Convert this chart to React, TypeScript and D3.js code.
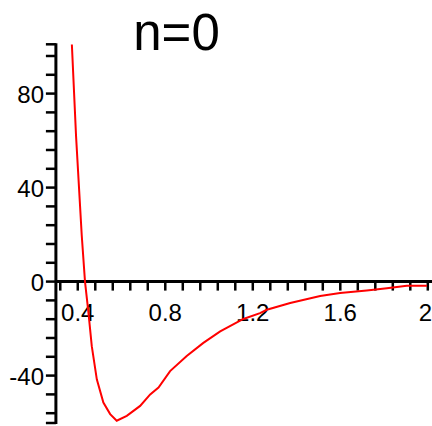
import React from "react";
import * as d3 from "d3";

const title = "n=0";
const rValues = [0.373, 0.392, 0.418, 0.433, 0.449, 0.464, 0.487, 0.517, 0.548, 0.578, 0.624, 0.685, 0.731, 0.769, 0.822, 0.898, 0.974, 1.051, 1.157, 1.233, 1.264, 1.371, 1.508, 1.599, 1.721, 1.813, 1.904, 1.996];
const energyValues = [100.9, 62.1, 19.8, 0, -13.4, -27.5, -41.6, -51.5, -56.4, -59.2, -57.1, -52.9, -48.0, -45.1, -38.1, -31.7, -26.1, -21.2, -15.9, -13.4, -12.0, -9.1, -6.1, -4.9, -3.8, -2.8, -1.8, -1.8];
const xTickValues = d3.range(0.32, 2.0001, 0.08);
const xLabelValues = [0.4, 0.8, 1.2, 1.6, 2];
const yTickValues = d3.range(-56, 97, 8);
const yLabelValues = [-40, 0, 40, 80];
const xDomain = [0.3, 2.0];
const yDomain = [-60.6, 101.4];

const W = 432;
const H = 426;
const FONT = "'Liberation Sans', Arial, sans-serif";

export default function App() {
  const x = d3.scaleLinear().domain(xDomain).range([55.9, 427.8]);
  const y = d3.scaleLinear().domain(yDomain).range([424, 43.3]);
  const line = d3
    .line<number>()
    .x((_, i) => x(rValues[i]))
    .y((d) => y(d))
    .curve(d3.curveLinear);
  const x0 = x(xDomain[0]);
  const y0 = y(0);
  const fmt = (v: number) => String(+v.toFixed(2));
  return (
    <svg
      width={W}
      height={H}
      style={{ position: "absolute", left: 0, top: 0, display: "block", background: "#fff" }}
    >
      <defs>
        <clipPath id="plotclip">
          <rect x={x0} y={y(yDomain[1])} width={W - x0} height={y(yDomain[0]) - y(yDomain[1])} />
        </clipPath>
      </defs>
      <text x={176.5} y={50} fontSize={51} fontFamily={FONT} textAnchor="middle" fill="#000">
        {title}
      </text>
      {/* y axis */}
      <line x1={x0} x2={x0} y1={y(yDomain[1])} y2={y(yDomain[0])} stroke="#000" strokeWidth={3} />
      {yTickValues.map((v) => (
        <line key={"yt" + v} x1={x0 - 10} x2={x0} y1={y(v)} y2={y(v)} stroke="#000" strokeWidth={2.5} />
      ))}
      <line x1={x0 - 10} x2={x0} y1={y(yDomain[1]) + 1} y2={y(yDomain[1]) + 1} stroke="#000" strokeWidth={2.5} />
      <line x1={x0 - 10} x2={x0} y1={y(yDomain[0]) - 1} y2={y(yDomain[0]) - 1} stroke="#000" strokeWidth={2.5} />
      {yLabelValues.map((v) => (
        <text key={"yl" + v} x={44} y={y(v) + 9.5} fontSize={24} fontFamily={FONT} textAnchor="end" fill="#000">
          {fmt(v)}
        </text>
      ))}
      {/* x axis */}
      <line x1={x0} x2={W} y1={y0} y2={y0} stroke="#000" strokeWidth={3} />
      {xTickValues.map((v) => (
        <line key={"xt" + v} x1={x(v)} x2={x(v)} y1={y0} y2={y0 + 9} stroke="#000" strokeWidth={2.5} />
      ))}
      {xLabelValues.map((v) => (
        <text
          key={"xl" + v}
          x={Math.min(x(v), W - 6.5)}
          y={y0 + 39.5}
          fontSize={24}
          fontFamily={FONT}
          textAnchor="middle"
          fill="#000"
        >
          {fmt(v)}
        </text>
      ))}
      <path d={line(energyValues) || ""} fill="none" stroke="#ff0000" strokeWidth={2} clipPath="url(#plotclip)" />
    </svg>
  );
}
